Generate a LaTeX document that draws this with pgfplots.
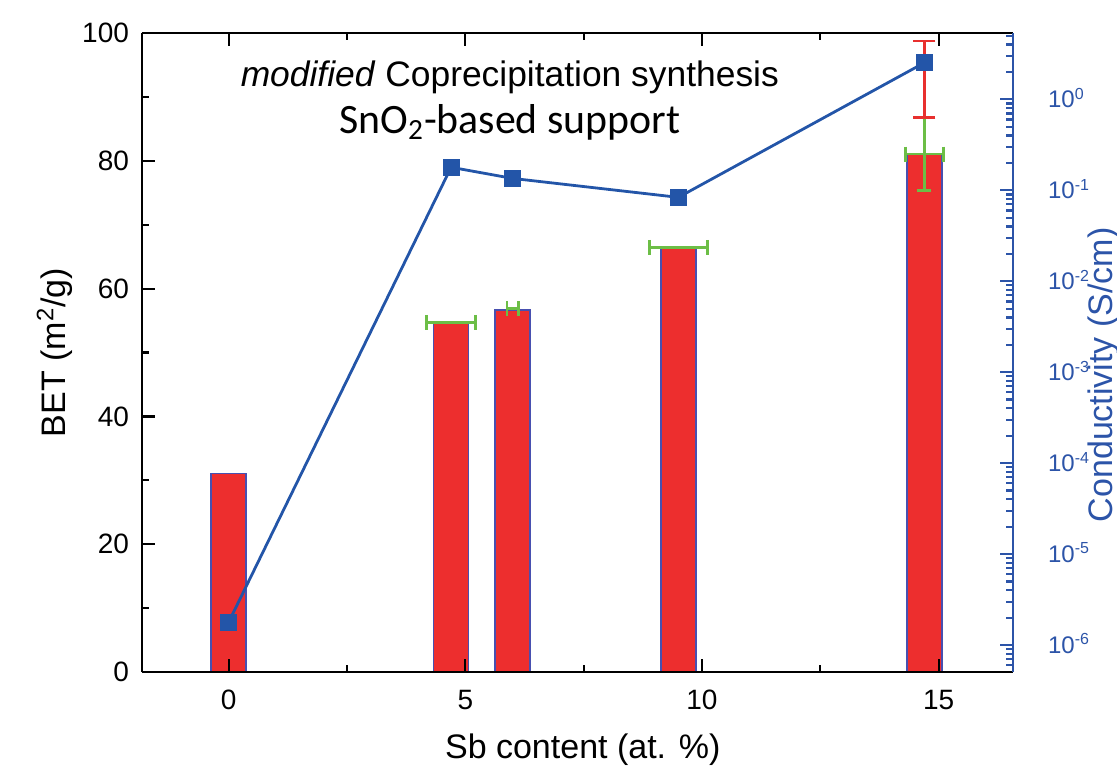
\documentclass[border=0pt]{standalone}
\usepackage{fontspec}
\setmainfont{Liberation Sans}
\newfontfamily\calibri{Carlito}
\usepackage{pgfplots}
\pgfplotsset{compat=1.18}

\definecolor{barred}{RGB}{237,46,46}
\definecolor{baredge}{RGB}{72,80,176}
\definecolor{lineblue}{RGB}{35,85,168}
\definecolor{axisblue}{RGB}{44,84,168}
\definecolor{errgreen}{RGB}{108,190,70}
\definecolor{errred}{RGB}{232,48,46}

\begin{document}
\begin{tikzpicture}
\pgfplotsset{
  common/.style={
    scale only axis, width=435.5pt, height=319.5pt,
    xmin=-1.83, xmax=16.57,
    tick align=inside,
    major tick length=6.5pt, minor tick length=3.5pt,
    /pgf/number format/assume math mode=true,
    clip=false,
  }
}
% BET surface area (left axis)
\begin{axis}[common,
  axis on top,
  ymin=0, ymax=100,
  axis x line*=box, axis y line*=left,
  xtick={0,5,10,15}, minor xtick={2.5,7.5,12.5},
  ytick={0,20,...,100}, minor ytick={10,30,...,90},
  ytick pos=left,
  axis line style={line width=1.2pt, black},
  every tick/.style={black, line width=1.1pt},
  every minor tick/.style={black, line width=1.1pt},
  tick label style={font=\fontsize{14}{16}\selectfont},
  xticklabel style={anchor=center, yshift=-14pt},
  yticklabel style={anchor=east, xshift=-3pt},
  xlabel={Sb content (at. \%)},
  ylabel={BET (m\textsuperscript{2}/g)},
  label style={font=\fontsize{17}{20}\selectfont},
  xlabel style={at={(rel axis cs:0.506,-0.122)}, anchor=center},
  ylabel style={at={(rel axis cs:-0.1,0.5)}, anchor=center},
  unbounded coords=jump,
]
\addplot[ybar, bar width=0.74, bar shift=0pt, fill=barred, draw=baredge, line width=0.7pt]
  coordinates {(0,31.1) (4.7,54.7) (6.0,56.65) (9.5,66.46) (14.7,81.06)};
% composition uncertainty (horizontal bars)
\addplot[errgreen, line width=1.4pt, mark=|, mark size=3.75pt]
  coordinates {
    (4.18,54.7)  (5.22,54.7)  (nan,nan)
    (5.88,56.9)  (6.12,56.9)  (nan,nan)
    (8.89,66.46) (10.11,66.46) (nan,nan)
    (14.30,81.06) (15.10,81.06)
  };
% BET uncertainty of the 15 at.% sample
\addplot[errgreen, line width=1.4pt, mark=-, mark size=3.5pt]
  coordinates {(14.7,75.31) (14.7,86.81)};

\node[anchor=base, font=\fontsize{17.7}{20}\selectfont]
  at (axis cs:5.94,91.7) {\textit{modified} Coprecipitation synthesis};
\node[anchor=base, font=\calibri\fontsize{20.9}{24}\selectfont]
  at (axis cs:5.94,84.35) {SnO\textsubscript{2}-based support};
\end{axis}

% electrical conductivity (right axis, log scale)
\begin{axis}[common,
  ymode=log, ymin=5.05e-7, ymax=5.36,
  axis y line*=right, axis x line=none,
  axis line style={line width=1.2pt, axisblue},
  ytick pos=right,
  ytick={1e-6,1e-5,1e-4,1e-3,1e-2,1e-1,1},
  yticklabels={10\textsuperscript{-6},10\textsuperscript{-5},10\textsuperscript{-4},
    10\textsuperscript{-3},10\textsuperscript{-2},10\textsuperscript{-1},10\textsuperscript{0}},
  minor ytick={6e-7,7e-7,8e-7,9e-7,
    2e-6,3e-6,4e-6,5e-6,6e-6,7e-6,8e-6,9e-6,
    2e-5,3e-5,4e-5,5e-5,6e-5,7e-5,8e-5,9e-5,
    2e-4,3e-4,4e-4,5e-4,6e-4,7e-4,8e-4,9e-4,
    2e-3,3e-3,4e-3,5e-3,6e-3,7e-3,8e-3,9e-3,
    2e-2,3e-2,4e-2,5e-2,6e-2,7e-2,8e-2,9e-2,
    0.2,0.3,0.4,0.5,0.6,0.7,0.8,0.9,
    2,3,4,5},
  every tick/.style={axisblue, line width=1.1pt},
  every minor tick/.style={axisblue, line width=1.1pt},
  yticklabel style={font=\fontsize{12}{14}\selectfont, text=axisblue, anchor=base west, xshift=14pt, yshift=-4.3pt},
  ylabel={Conductivity (S/cm)},
  ylabel style={font=\fontsize{17}{20}\selectfont, text=axisblue, at={(rel axis cs:1.104,0.465)}, anchor=center},
]
% conductivity uncertainty of the 15 at.% sample
\addplot[errred, line width=1.4pt, mark=-, mark size=5.5pt]
  coordinates {(14.7,0.634) (14.7,4.38)};
\addplot[lineblue, line width=1.4pt, mark=square*, mark size=4pt,
  mark options={fill=lineblue, draw=lineblue, line width=0.5pt}]
  coordinates {(0,1.78e-6) (4.7,0.179) (6.0,0.135) (9.5,0.0836) (14.7,2.53)};
\end{axis}
\pgfresetboundingbox
\path[use as bounding box] (-71pt,-48pt) rectangle (487.5pt,336pt);
\end{tikzpicture}
\end{document}
